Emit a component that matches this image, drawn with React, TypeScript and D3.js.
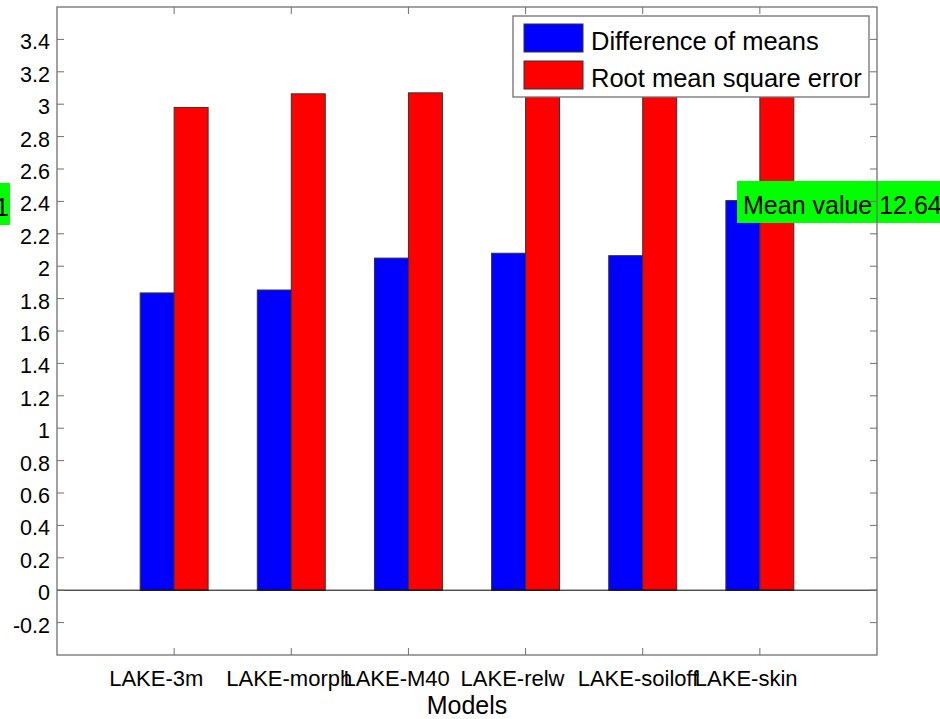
import React from 'react'
import * as d3 from 'd3'

// data
const models = ['LAKE-3m', 'LAKE-morph', 'LAKE-M40', 'LAKE-relw', 'LAKE-soiloff', 'LAKE-skin']
const diffMeans = [1.835, 1.853, 2.05, 2.08, 2.065, 2.405]
const rmse = [2.98, 3.064, 3.07, 3.1, 3.09, 3.1]
const seriesNames = ['Difference of means', 'Root mean square error']
const seriesColors = ['#0000ff', '#ff0000']
const yTicks = [-0.2, 0, 0.2, 0.4, 0.6, 0.8, 1, 1.2, 1.4, 1.6, 1.8, 2, 2.2, 2.4, 2.6, 2.8, 3, 3.2, 3.4]
const meanLabels = ['Mean value 12.61', 'Mean value 12.64']

export default function App() {
  const width = 940
  const height = 719
  const left = 57, right = 877, top = 7, bottom = 655
  const font = '"Liberation Sans", Arial, sans-serif'
  const axisColor = '#707070'

  // x runs 0..7 like matlab's bar, categories at 1..6
  const x = d3.scaleLinear().domain([0, models.length + 1]).range([left, right])
  const y = d3.scaleLinear().domain([-0.4, 3.6]).range([bottom, top])
  const barW = x(0.29) - x(0)

  const series = [diffMeans, rmse]

  return (
    <svg width={width} height={height} style={{ position: 'absolute', left: 0, top: 0 }} fontFamily={font}>
      <rect x={0} y={0} width={width} height={height} fill="#fff" />
      <rect x={left} y={top} width={right - left} height={bottom - top} fill="#fff" />

      {/* bars */}
      {series.map((vals, s) =>
        vals.map((v, i) => (
          <rect key={s + '-' + i}
            x={x(i + 1) + (s - 1) * barW}
            y={y(v)}
            width={barW}
            height={y(0) - y(v)}
            fill={seriesColors[s]}
            stroke="#333"
            strokeWidth={1} />
        ))
      )}

      {/* baseline */}
      <line x1={left} x2={right} y1={y(0)} y2={y(0)} stroke="#000" strokeWidth={1} />

      {/* green annotations */}
      <rect x={-220} y={183} width={230} height={42} fill="#00ff00" />
      <text x={9} y={216} textAnchor="end" fontSize={25}>{meanLabels[0]}</text>
      <rect x={737} y={181} width={220} height={42} fill="#00ff00" />
      <text x={743} y={214} fontSize={25}>{meanLabels[1]}</text>

      {/* axes box */}
      <rect x={left} y={top} width={right - left} height={bottom - top} fill="none" stroke={axisColor} strokeWidth={1.3} />

      {/* y ticks */}
      {yTicks.map(t => (
        <g key={t}>
          <line x1={left} x2={left + 7} y1={y(t)} y2={y(t)} stroke={axisColor} />
          <line x1={right - 7} x2={right} y1={y(t)} y2={y(t)} stroke={axisColor} />
          <text x={50} y={y(t) + 10} textAnchor="end" fontSize={21.5}>{String(t)}</text>
        </g>
      ))}

      {/* x ticks */}
      {models.map((m, i) => (
        <g key={m}>
          <line x1={x(i + 1)} x2={x(i + 1)} y1={bottom} y2={bottom - 7} stroke={axisColor} />
          <line x1={x(i + 1)} x2={x(i + 1)} y1={top} y2={top + 7} stroke={axisColor} />
          <text x={x(i + 1) - 65} y={686} fontSize={22}>{m}</text>
        </g>
      ))}

      <text x={(left + right) / 2} y={714} textAnchor="middle" fontSize={25}>Models</text>

      {/* legend */}
      <rect x={513} y={16} width={356} height={81} fill="#fff" stroke={axisColor} strokeWidth={1.3} />
      {seriesNames.map((n, i) => (
        <g key={n}>
          <rect x={524} y={24 + i * 37} width={59} height={28} fill={seriesColors[i]} stroke="#333" />
          <text x={591} y={50 + i * 37} fontSize={25.5}>{n}</text>
        </g>
      ))}
    </svg>
  )
}
